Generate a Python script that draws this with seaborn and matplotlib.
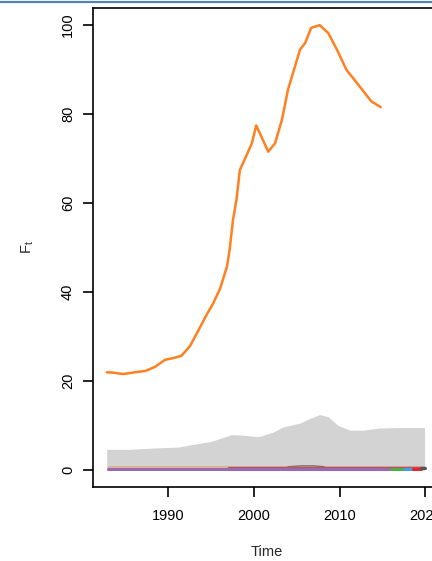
import matplotlib
matplotlib.use("Agg")
import matplotlib.pyplot as plt
from matplotlib.lines import Line2D
import seaborn as sns

# ─── Data ─────────────────────────────────────────────────────────────────────
ft_years = [1982.9, 1983.7, 1984.8, 1986.2, 1987.4, 1988.5, 1989.7, 1990.7, 1991.6,
            1992.6, 1993.6, 1994.5, 1995.3, 1996.1, 1996.9, 1997.2, 1997.6, 1998.0,
            1998.4, 1999.2, 1999.8, 2000.3, 2000.9, 2001.7, 2002.5, 2003.3, 2004.0,
            2005.4, 2006.0, 2006.7, 2007.7, 2008.7, 2009.7, 2010.8, 2012.2, 2013.7,
            2014.8]
ft_values = [22.0, 21.9, 21.6, 22.0, 22.3, 23.2, 24.8, 25.2, 25.7,
             27.9, 31.5, 34.8, 37.5, 40.8, 45.7, 49.4, 56.2, 60.7,
             67.4, 70.8, 73.4, 77.4, 74.9, 71.5, 73.4, 78.7, 85.4,
             94.4, 95.9, 99.3, 99.9, 98.1, 94.4, 89.9, 86.5, 82.8,
             81.5]

band_years = [1982.9, 1985.4, 1988.3, 1991.2, 1993.2, 1995.1, 1996.5, 1997.4, 1998.6,
              2000.2, 2000.7, 2002.3, 2003.4, 2005.4, 2006.5, 2007.7, 2008.7, 2009.8,
              2011.2, 2012.7, 2014.7, 2017.0, 2019.9]
band_upper = [4.7, 4.7, 5.0, 5.2, 5.9, 6.5, 7.4, 8.0, 7.9,
              7.6, 7.6, 8.6, 9.7, 10.6, 11.6, 12.5, 12.0, 10.1,
              9.0, 9.0, 9.5, 9.6, 9.6]

# small series sitting near zero: (years, values, colour, width)
low_series = [
    ([1983.0, 2020.0], [0.8, 0.8], "#555555", 1.0),
    ([2004.0, 2005.5, 2007.0, 2008.2], [0.8, 1.0, 1.0, 0.8], "#777777", 1.0),
    ([1983.0, 1997.0], [0.75, 0.75], "#F4B183", 1.0),
    ([1997.0, 2020.0], [0.75, 0.75], "#C8504A", 1.0),
    ([1983.0, 2016.0], [0.3, 0.3], "#9A6AAE", 2.2),
    ([2016.0, 2017.5], [0.3, 0.3], "#4DAF4A", 2.2),
    ([2017.5, 2018.5], [0.3, 0.3], "#4F9BD9", 2.2),
    ([2018.5, 2019.5], [0.4, 0.4], "#E8242B", 2.2),
    ([2019.5, 2020.0], [0.5, 0.5], "#555555", 2.2),
]

x_ticks = [1990, 2000, 2010, 2020]
y_ticks = [0, 20, 40, 60, 80, 100]

# ─── Plot ─────────────────────────────────────────────────────────────────────
sns.set_style("ticks")
plt.rcParams["font.family"] = ["Liberation Sans", "DejaVu Sans"]

fig = plt.figure(figsize=(4.32, 5.61), dpi=100)
fig.patch.set_facecolor("white")
ax = fig.add_axes([93 / 432, 1 - 487 / 561, 347 / 432, (487 - 8) / 561])

ax.fill_between(band_years, 0, band_upper, color="#D3D3D3", linewidth=0, zorder=1)

for yrs, vals, col, lw in low_series:
    sns.lineplot(x=yrs, y=vals, color=col, linewidth=lw, ax=ax, zorder=2)

sns.lineplot(x=ft_years, y=ft_values, color="#FF8020", linewidth=1.8, ax=ax, zorder=3,
             solid_joinstyle="round", solid_capstyle="round")

ax.set_xlim(1981.3, 2021.7)
ax.set_ylim(-3.75, 103.75)
ax.set_xticks(x_ticks)
ax.set_yticks(y_ticks)
ax.set_yticklabels([str(v) for v in y_ticks], rotation=90, va="center")

for side in ["left", "right", "top", "bottom"]:
    ax.spines[side].set_visible(True)
    ax.spines[side].set_linewidth(1.2)
    ax.spines[side].set_color("black")
ax.tick_params(axis="both", length=7, width=1.2, labelsize=10.5, colors="black")
ax.tick_params(axis="x", pad=9)
ax.tick_params(axis="y", pad=6)

ax.set_xlabel("Time", fontsize=10.5)
ax.set_ylabel(r"$\mathregular{F_t}$", fontsize=10.5)
ax.xaxis.set_label_coords(0.5, -0.122)
ax.yaxis.set_label_coords(-0.164, 0.5)

# thin blue rule across the very top of the picture
fig.add_artist(Line2D([0, 1], [1 - 2 / 561, 1 - 2 / 561], color="#4F81BD",
                      linewidth=1.6, transform=fig.transFigure))

fig.savefig("out.png", dpi=100)
plt.close(fig)
